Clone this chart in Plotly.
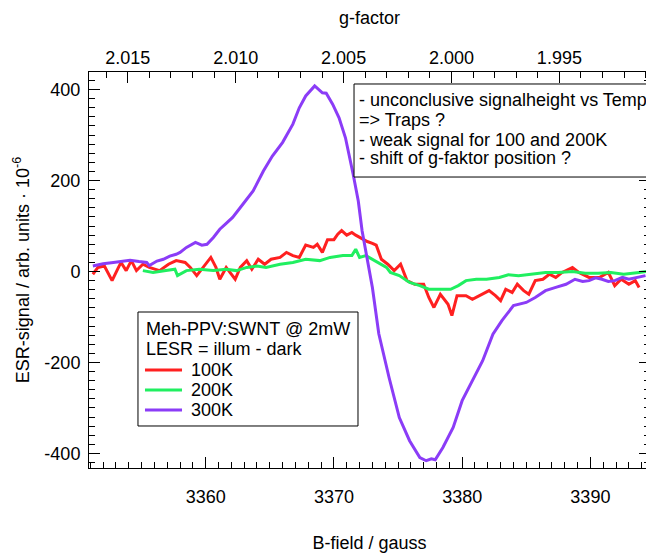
import plotly.graph_objects as go

FONT = "Liberation Sans, Arial, sans-serif"

# B-field (gauss) and ESR signal (arb. units x 1e-6)
b_100k = [3351.2, 3351.6, 3352.1, 3352.7, 3353.2, 3353.4, 3353.8, 3354.2, 3354.6, 3355.1,
          3355.6, 3356.4, 3357.1, 3357.7, 3358.4, 3358.8, 3359.3, 3359.8, 3360.4, 3360.8,
          3361.1, 3361.6, 3362.3, 3362.7, 3363.2, 3363.6, 3364.1, 3364.6, 3365.1, 3365.8,
          3366.3, 3366.8, 3367.3, 3367.8, 3368.4, 3368.7, 3369.1, 3369.5, 3370.0, 3370.3,
          3370.6, 3371.0, 3371.4, 3371.7, 3372.2, 3372.6, 3373.0, 3373.3, 3373.7, 3374.2,
          3374.7, 3375.2, 3375.7, 3376.3, 3377.0, 3377.4, 3377.8, 3378.3, 3378.9, 3379.2,
          3379.6, 3380.3, 3380.8, 3381.5, 3382.1, 3382.6, 3383.0, 3383.4, 3383.9, 3384.3,
          3384.8, 3385.2, 3385.7, 3386.3, 3386.8, 3387.3, 3387.8, 3388.6, 3389.1, 3389.9,
          3390.7, 3391.4, 3391.9, 3392.4, 3393.0, 3393.5, 3393.8]
esr_100k = [-6, 9, 12, -20, 9, 20, 2, 24, 2, 16,
            9, 2, 16, 24, 20, 9, -9, 9, 31, 9,
            -17, 9, -17, 9, 24, 5, 27, 16, 27, 31,
            42, 35, 31, 58, 53, 60, 42, 70, 70, 82,
            90, 80, 86, 80, 72, 66, 62, 58, 27, 16,
            2, 16, -20, -28, -28, -57, -79, -50, -72, -97,
            -53, -53, -61, -50, -42, -53, -64, -39, -46, -28,
            -42, -50, -20, -17, -6, -13, -2, 9, -2, -13,
            -13, -2, -31, -17, -28, -20, -35]

b_200k = [3355.1, 3355.9, 3356.9, 3357.6, 3357.8, 3358.5, 3359.5, 3360.6, 3361.6, 3362.4,
          3363.2, 3364.0, 3364.7, 3365.8, 3366.8, 3367.8, 3368.9, 3369.7, 3370.7, 3371.4,
          3371.7, 3372.0, 3372.5, 3373.0, 3373.5, 3374.1, 3374.4, 3375.1, 3375.9, 3376.7,
          3377.4, 3378.2, 3379.1, 3379.7, 3380.3, 3381.1, 3381.9, 3382.9, 3383.6, 3384.4,
          3385.5, 3386.5, 3387.5, 3388.6, 3389.6, 3390.6, 3391.6, 3392.6, 3393.8, 3394.4]
esr_200k = [2, -2, 2, 5, -9, 2, 5, 2, 5, 2,
            9, 12, 9, 16, 20, 27, 24, 31, 35, 35,
            49, 31, 35, 27, 20, 9, -2, -9, -24, -31,
            -39, -39, -39, -31, -20, -17, -17, -13, -7, -9,
            -6, -2, -2, 0, -4, -4, -2, -6, -2, 0]

b_300k = [3351.2, 3352.0, 3352.8, 3353.5, 3354.1, 3354.8, 3355.4, 3355.6, 3356.2, 3356.7,
          3357.2, 3357.7, 3358.0, 3358.5, 3359.2, 3359.7, 3360.1, 3360.6, 3361.1, 3361.6,
          3362.1, 3362.9, 3363.7, 3364.5, 3365.2, 3366.0, 3366.8, 3367.3, 3367.8, 3368.5,
          3368.8, 3369.1, 3369.4, 3369.9, 3370.4, 3370.9, 3371.5, 3371.9, 3372.2, 3373.0,
          3373.5, 3374.3, 3375.1, 3375.9, 3376.7, 3377.2, 3377.6, 3377.9, 3378.5, 3379.3,
          3380.0, 3380.8, 3381.6, 3382.4, 3383.1, 3384.0, 3384.5, 3385.0, 3385.7, 3386.5,
          3387.3, 3388.1, 3388.8, 3389.4, 3389.9, 3390.4, 3390.9, 3391.4, 3391.9, 3392.5,
          3393.0, 3393.6, 3394.3]
esr_300k = [12, 17, 20, 22, 25, 22, 20, 13, 23, 27,
            34, 38, 42, 53, 64, 58, 60, 75, 93, 106,
            119, 148, 177, 221, 254, 284, 324, 360, 386, 408,
            400, 393, 392, 368, 338, 294, 214, 155, 89, -35,
            -137, -233, -321, -372, -409, -416, -412, -414, -387, -343,
            -284, -240, -196, -138, -108, -75, -72, -68, -57, -42,
            -35, -28, -17, -22, -20, -14, -17, -22, -20, -13,
            -17, -14, -9]

# y tick labels use a plain hyphen like the original
y_tickvals = [-400, -200, 0, 200, 400]
y_ticktext = ["-400", "-200", "0", "200", "400"]

series = [
    ("100K", b_100k, esr_100k, "#ff2020"),
    ("200K", b_200k, esr_200k, "#20ef60"),
    ("300K", b_300k, esr_300k, "#8b3cf7"),
]

legend_title = ["Meh-PPV:SWNT @ 2mW", "LESR = illum - dark"]

notes = [
    "- unconclusive signalheight vs Temp",
    "=> Traps ?",
    "- weak signal for 100 and 200K",
    "- shift of g-faktor position ?",
]

fig = go.Figure()
for name, b, v, color in series:
    fig.add_trace(go.Scatter(x=b, y=v, mode="lines", name=name,
                             line=dict(color=color, width=3)))

axis_common = dict(
    showline=True, linecolor="black", linewidth=1,
    ticks="inside", ticklen=11, tickcolor="black", tickwidth=1,
    showgrid=False, zeroline=False, automargin=False,
    tickfont=dict(family=FONT, size=18, color="black"),
)

# page body adds an 8px offset, so the figure is 8px smaller than the window
fig.update_layout(
    width=646, height=547,
    margin=dict(l=81, r=4, t=64, b=87),
    paper_bgcolor="white", plot_bgcolor="white",
    font=dict(family=FONT, size=18, color="black"),
    showlegend=False,
    xaxis=dict(
        range=[3350.9, 3394.65], dtick=10, tick0=3360,
        minor=dict(dtick=1, ticks="inside", ticklen=6, tickcolor="black"),
        ticklabelstandoff=12,
        title=dict(text="B-field / gauss", font=dict(family=FONT, size=18), standoff=30),
        **axis_common,
    ),
    xaxis2=dict(
        overlaying="x", side="top", range=[2.0168, 1.9908],
        dtick=0.005, tick0=2.0, tickformat=".3f",
        minor=dict(dtick=0.001, ticks="inside", ticklen=6, tickcolor="black"),
        ticklabelstandoff=0,
        title=dict(text="g-factor", font=dict(family=FONT, size=18), standoff=28),
        **axis_common,
    ),
    yaxis=dict(
        range=[-432, 438.7], tickmode="array",
        tickvals=y_tickvals, ticktext=y_ticktext, mirror="ticks",
        minor=dict(dtick=20, tick0=0, ticks="inside", ticklen=6, tickcolor="black"),
        ticklabelstandoff=4,
        title=dict(text="ESR-signal / arb. units · 10<sup>-6</sup>",
                   font=dict(family=FONT, size=18), standoff=10),
        **axis_common,
    ),
)

# invisible anchor so the top g-factor axis is drawn
fig.add_trace(go.Scatter(x=[2.0], y=[0], xaxis="x2", mode="markers",
                         marker=dict(opacity=0), showlegend=False, hoverinfo="skip"))

# notes box (runs off the right edge like the original)
fig.add_shape(type="rect", xref="paper", yref="paper",
              x0=0.4724, x1=1.03, y0=0.7348, y1=0.9697,
              line=dict(color="black", width=1), fillcolor="white", layer="above")
note_y = [0.9285, 0.8780, 0.8283, 0.7816]
for text, yy in zip(notes, note_y):
    fig.add_annotation(text=text, xref="paper", yref="paper", x=0.4777, y=yy,
                       xanchor="left", yanchor="middle", showarrow=False,
                       font=dict(family=FONT, size=18, color="black"))

# legend box drawn by hand to keep the tight Igor-style line spacing
fig.add_shape(type="rect", xref="paper", yref="paper",
              x0=0.0873, x1=0.4795, y0=0.1061, y1=0.3939,
              line=dict(color="black", width=1), fillcolor="white", layer="above")
row_y = [0.3510, 0.3005, 0.2475, 0.1970, 0.1465]
for text, yy in zip(legend_title, row_y[:2]):
    fig.add_annotation(text=text, xref="paper", yref="paper", x=0.0980, y=yy,
                       xanchor="left", yanchor="middle", showarrow=False,
                       font=dict(family=FONT, size=18, color="black"))
for (name, _, _, color), yy in zip(series, row_y[2:]):
    fig.add_shape(type="line", xref="paper", yref="paper",
                  x0=0.0998, x1=0.1658, y0=yy, y1=yy,
                  line=dict(color=color, width=3), layer="above")
    fig.add_annotation(text=name, xref="paper", yref="paper", x=0.1783, y=yy,
                       xanchor="left", yanchor="middle", showarrow=False,
                       font=dict(family=FONT, size=18, color="black"))

fig.write_html("out.html")
